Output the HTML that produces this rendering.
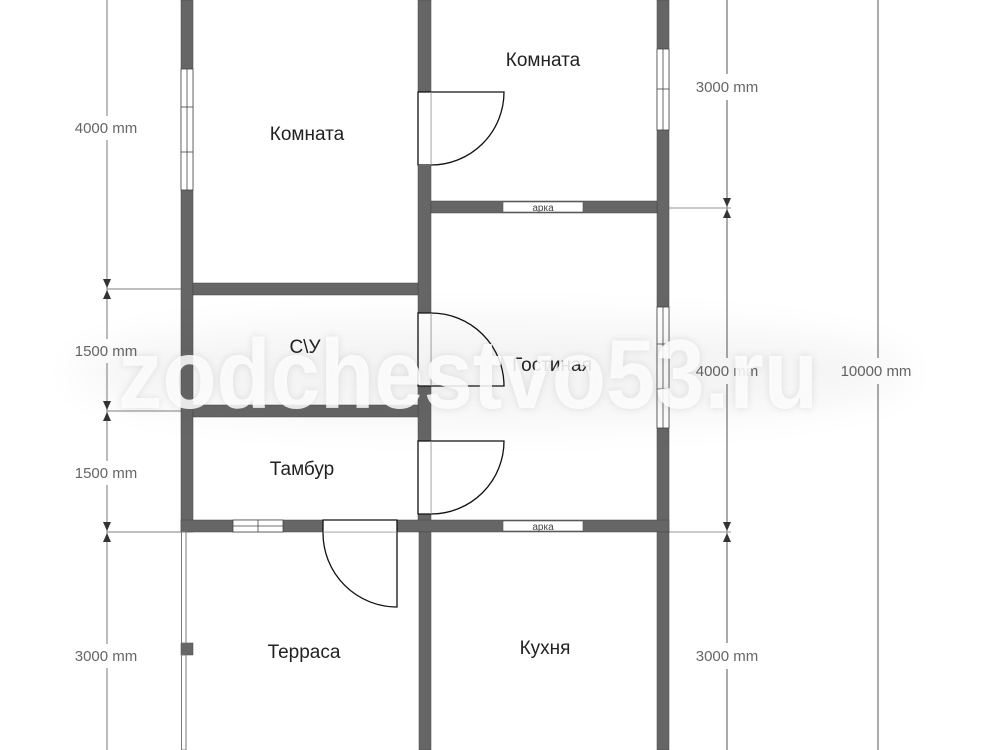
<!DOCTYPE html>
<html><head><meta charset="utf-8"><style>
html,body{margin:0;padding:0;background:#fff;}
svg{display:block;}
text{font-family:"Liberation Sans","DejaVu Sans",sans-serif;}
</style></head><body>
<svg width="1000" height="750" viewBox="0 0 1000 750" xmlns="http://www.w3.org/2000/svg">
<defs>
<filter id="bl" x="-20%" y="-50%" width="140%" height="200%"><feGaussianBlur stdDeviation="22"/></filter>
<filter id="bl2" x="-5%" y="-20%" width="110%" height="140%"><feGaussianBlur stdDeviation="4"/></filter>
</defs>
<rect width="1000" height="750" fill="#fff"/>

<g stroke="#999" stroke-width="1.3">
<line x1="107" y1="0" x2="107" y2="750"/>
<line x1="107" y1="289" x2="181" y2="289"/>
<line x1="107" y1="411" x2="181" y2="411"/>
<line x1="107" y1="532" x2="181" y2="532"/>
</g>
<g fill="#333">
<polygon points="103,279 111,279 107,288"/><polygon points="103,299 111,299 107,290"/>
<polygon points="103,401 111,401 107,410"/><polygon points="103,421 111,421 107,412"/>
<polygon points="103,522 111,522 107,531"/><polygon points="103,542 111,542 107,533"/>
</g>
<g fill="#fff">
<rect x="65" y="116" width="85" height="24"/><rect x="65" y="339" width="85" height="24"/>
<rect x="65" y="461" width="85" height="24"/><rect x="65" y="644" width="85" height="24"/>
</g>
<g font-size="15" fill="#666" text-anchor="middle">
<text x="106" y="133">4000 mm</text>
<text x="106" y="356">1500 mm</text>
<text x="106" y="478">1500 mm</text>
<text x="106" y="661">3000 mm</text>
</g>

<g stroke="#555" stroke-width="1">
<line x1="727" y1="0" x2="727" y2="750"/>
<line x1="878" y1="0" x2="878" y2="750"/>
</g>
<g stroke="#aaa" stroke-width="1.3">
<line x1="669" y1="208" x2="731" y2="208"/>
<line x1="669" y1="532" x2="731" y2="532"/>
</g>
<g fill="#333">
<polygon points="723,198 731,198 727,207"/><polygon points="723,218 731,218 727,209"/>
<polygon points="723,522 731,522 727,531"/><polygon points="723,542 731,542 727,533"/>
</g>
<g fill="#fff">
<rect x="686" y="74" width="84" height="26"/><rect x="686" y="358" width="84" height="26"/>
<rect x="686" y="643" width="84" height="26"/><rect x="830" y="358" width="95" height="26"/>
</g>
<g font-size="15" fill="#666" text-anchor="middle">
<text x="727" y="92">3000 mm</text>
<text x="727" y="376">4000 mm</text>
<text x="727" y="661">3000 mm</text>
<text x="876" y="376">10000 mm</text>
</g>

<g fill="#666" stroke="#444" stroke-width="0.5">
<rect x="181" y="0" width="12" height="532"/>
<rect x="418" y="0" width="13" height="532"/>
<rect x="657" y="0" width="12" height="532"/>
<rect x="193" y="283" width="225" height="12"/>
<rect x="193" y="405" width="225" height="12"/>
<rect x="431" y="201" width="226" height="12"/>
<rect x="181" y="520" width="488" height="12"/>
<rect x="419" y="532" width="12" height="218"/>
<rect x="657" y="532" width="12" height="218"/>
<rect x="181" y="643" width="12" height="12"/>
</g>
<g stroke="#777" stroke-width="1" fill="#fff">
<rect x="181.5" y="532" width="4.5" height="111"/>
<rect x="181.5" y="655" width="4.5" height="95"/>
</g>

<g fill="#fff" stroke="#444" stroke-width="0.8">
<rect x="181" y="69" width="12" height="121"/>
<line x1="187" y1="69" x2="187" y2="190"/>
<line x1="181" y1="107" x2="193" y2="107"/><line x1="181" y1="152" x2="193" y2="152"/>
<rect x="657" y="49" width="12" height="81"/>
<line x1="663" y1="49" x2="663" y2="130"/><line x1="657" y1="89" x2="669" y2="89"/>
<rect x="657" y="307" width="12" height="121"/>
<line x1="663" y1="307" x2="663" y2="428"/>
<line x1="657" y1="344" x2="669" y2="344"/><line x1="657" y1="389" x2="669" y2="389"/>
<rect x="233" y="520" width="50" height="12"/>
<line x1="233" y1="526" x2="283" y2="526"/><line x1="258" y1="520" x2="258" y2="532"/>
</g>

<g fill="#fff" stroke="#555" stroke-width="0.6">
<rect x="503" y="202" width="80" height="10"/>
<rect x="503" y="521" width="80" height="10"/>
</g>
<g font-size="10" fill="#444" text-anchor="middle">
<text x="543" y="211">арка</text>
<text x="543" y="530">арка</text>
</g>

<g fill="#fff" stroke="none">
<rect x="418" y="92" width="13" height="74"/>
<rect x="418" y="313" width="13" height="73"/>
<rect x="418" y="441" width="13" height="73"/>
<rect x="323" y="520" width="74" height="12"/>
</g>
<g fill="none" stroke="#111" stroke-width="1.3">
<path d="M418,92 H504 A73,73 0 0 1 431,165 H418 Z"/>
<line x1="431" y1="92" x2="431" y2="165" stroke="#999" stroke-width="0.8"/>
<path d="M418,313 H431 A73,73 0 0 1 504,386 H418 Z"/>
<line x1="431" y1="313" x2="431" y2="386" stroke="#999" stroke-width="0.8"/>
<path d="M418,441 H504 A73,73 0 0 1 431,514 H418 Z"/>
<line x1="431" y1="441" x2="431" y2="514" stroke="#999" stroke-width="0.8"/>
<path d="M323,520 H397 V607 A74,74 0 0 1 323,533 Z"/>
<line x1="323" y1="532" x2="397" y2="532" stroke="#999" stroke-width="0.8"/>
</g>

<g font-size="19" fill="#222" text-anchor="middle">
<text x="543" y="66">Комната</text>
<text x="307" y="140">Комната</text>
<text x="305" y="353">С\У</text>
<text x="552" y="371">Гостиная</text>
<text x="302" y="475">Тамбур</text>
<text x="304" y="658">Терраса</text>
<text x="545" y="654">Кухня</text>
</g>

<ellipse cx="490" cy="372" rx="420" ry="50" fill="#000" opacity="0.045" filter="url(#bl)"/>
<text x="118" y="408" font-size="98" font-weight="bold" fill="#777" opacity="0.2" textLength="700" lengthAdjust="spacingAndGlyphs" filter="url(#bl2)">zodchestvo53.ru</text>
<text x="118" y="408" font-size="98" font-weight="bold" fill="#fff" opacity="0.85" textLength="700" lengthAdjust="spacingAndGlyphs">zodchestvo53.ru</text>
</svg>
</body></html>
